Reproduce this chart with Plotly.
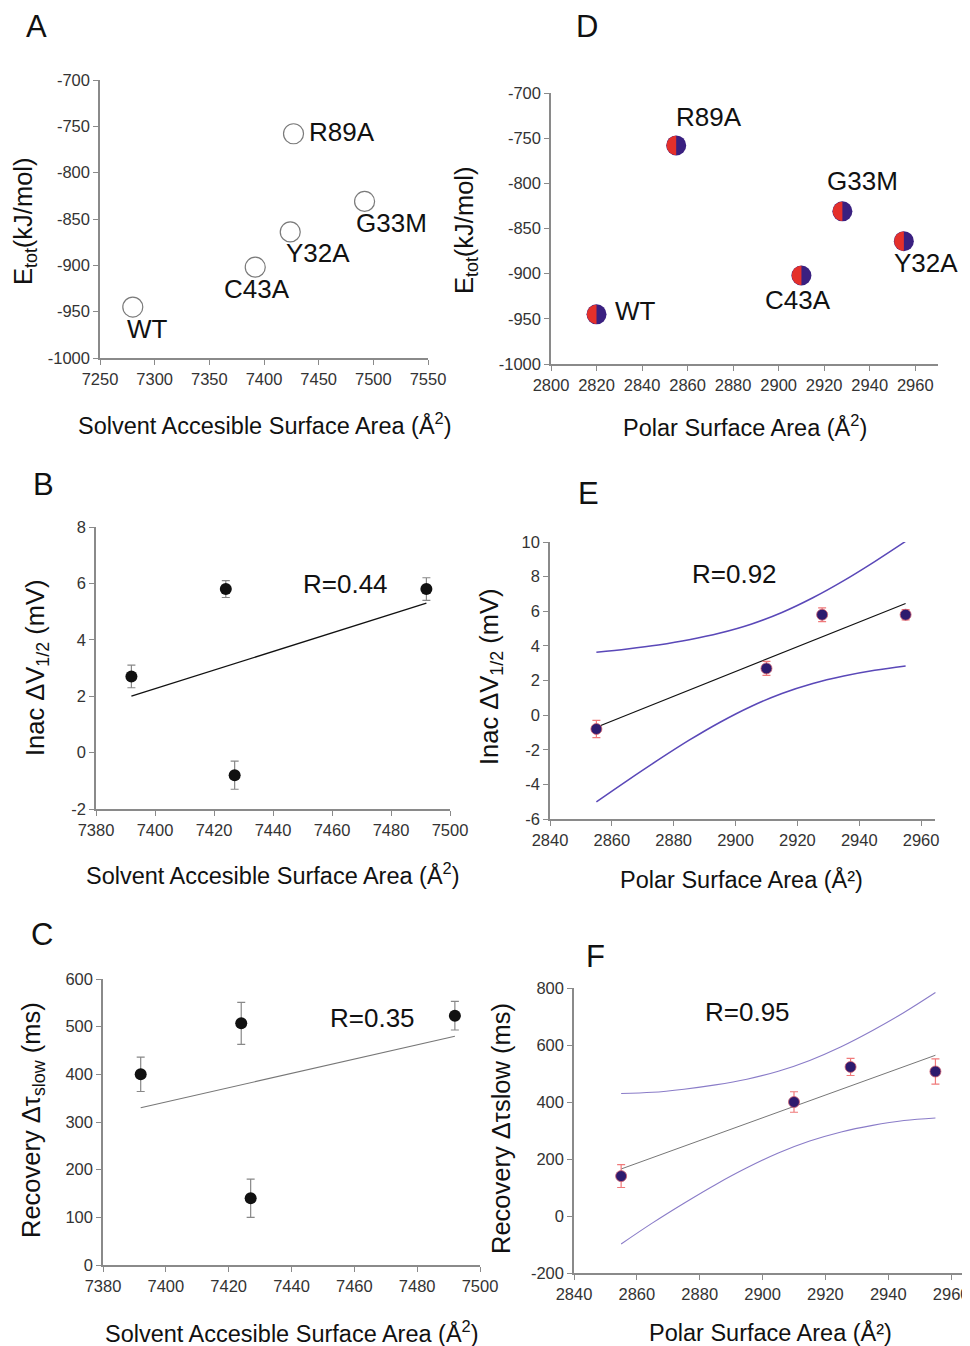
import plotly.graph_objects as go

# ---------------- data ----------------
all_mutants = ["WT", "C43A", "Y32A", "R89A", "G33M"]
sasa_all = [7280, 7392, 7424, 7427, 7492]
polar_all = [2820, 2910, 2955, 2855, 2928]
etot_all = [-945, -902, -864, -758, -831]

mutants = ["C43A", "Y32A", "R89A", "G33M"]
sasa = [7392, 7424, 7427, 7492]
polar = [2910, 2955, 2855, 2928]
dv_inac = [2.7, 5.8, -0.8, 5.8]
dv_err = [0.4, 0.3, 0.5, 0.4]
dtau = [400, 507, 140, 523]
dtau_err = [36, 44, 40, 30]

fit_sasa_x = [7392, 7492]
fit_b_y = [2.0, 5.3]
fit_c_y = [330, 480]
fit_polar_x = [2855, 2955]
fit_e_y = [-0.7, 6.45]
fit_f_y = [165, 564]

band_x = [2855, 2865, 2875, 2885, 2895, 2905, 2915, 2925, 2935, 2945, 2955]
band_e_up = [3.63, 3.82, 4.05, 4.35, 4.74, 5.25, 5.93, 6.78, 7.77, 8.87, 10.04]
band_e_lo = [-5.01, -3.78, -2.59, -1.45, -0.41, 0.50, 1.25, 1.83, 2.26, 2.59, 2.84]
band_f_up = [430, 434, 445, 460, 480, 508, 546, 594, 651, 714, 784]
band_f_lo = [-98, -24, 45, 110, 169, 221, 263, 295, 318, 335, 344]

r_labels = ["R=0.44", "R=0.92", "R=0.35", "R=0.95"]

ticks_etot = [-1000, -950, -900, -850, -800, -750, -700]
ticks_sasa_a = [7250, 7300, 7350, 7400, 7450, 7500, 7550]
ticks_polar_d = [2800, 2820, 2840, 2860, 2880, 2900, 2920, 2940, 2960]
ticks_sasa = [7380, 7400, 7420, 7440, 7460, 7480, 7500]
ticks_polar = [2840, 2860, 2880, 2900, 2920, 2940, 2960]
ticks_dv_b = [-2, 0, 2, 4, 6, 8]
ticks_dv_e = [-6, -4, -2, 0, 2, 4, 6, 8, 10]
ticks_tau_c = [0, 100, 200, 300, 400, 500, 600]
ticks_tau_f = [-200, 0, 200, 400, 600, 800]

# ---------------- styling ----------------
OFF = 8                      # page body margin
W, H = 970 - OFF, 1346 - OFF
FONT = "Liberation Sans, Arial, sans-serif"
AXC = "#8a8a8a"
RED = "#e4302b"
PURPLE = "#3a2080"
BAND = "#5a48b8"
ERR_RED = "#f07a7a"

def px_x(v):
    return (v - OFF) / W

def px_y(v):
    return 1 - (v - OFF) / H

def axis(rng, ticks, dom, anchor):
    return dict(range=rng, tickmode="array", tickvals=ticks, ticktext=[str(t) for t in ticks],
                domain=dom, anchor=anchor,
                showline=True, linecolor=AXC, linewidth=1.5,
                ticks="outside", ticklen=5, tickwidth=1.2, tickcolor=AXC,
                showgrid=False, zeroline=False, automargin=False,
                tickfont=dict(family=FONT, size=16.5, color="#333"))

fig = go.Figure()

# A: open circles
fig.add_trace(go.Scatter(x=sasa_all, y=etot_all, mode="markers", xaxis="x", yaxis="y",
                         marker=dict(symbol="circle", size=20, color="white",
                                     line=dict(color="#7a7a7a", width=1.2)),
                         showlegend=False))

# D: purple circles with red left half (shapes)
fig.add_trace(go.Scatter(x=polar_all, y=etot_all, mode="markers", xaxis="x2", yaxis="y2",
                         marker=dict(symbol="circle", size=20, color=PURPLE,
                                     line=dict(color=PURPLE, width=0)),
                         showlegend=False))

# B
fig.add_trace(go.Scatter(x=fit_sasa_x, y=fit_b_y, mode="lines", xaxis="x3", yaxis="y3",
                         line=dict(color="#111", width=1.3), showlegend=False))
fig.add_trace(go.Scatter(x=sasa, y=dv_inac, mode="markers", xaxis="x3", yaxis="y3",
                         error_y=dict(type="data", array=dv_err, color="#888", thickness=1.2, width=4),
                         marker=dict(size=12, color="#111"), showlegend=False))

# E
fig.add_trace(go.Scatter(x=band_x, y=band_e_up, mode="lines", line_shape="spline", xaxis="x4", yaxis="y4",
                         line=dict(color=BAND, width=1.5), showlegend=False))
fig.add_trace(go.Scatter(x=band_x, y=band_e_lo, mode="lines", line_shape="spline", xaxis="x4", yaxis="y4",
                         line=dict(color=BAND, width=1.5), showlegend=False))
fig.add_trace(go.Scatter(x=fit_polar_x, y=fit_e_y, mode="lines", xaxis="x4", yaxis="y4",
                         line=dict(color="#111", width=1.2), showlegend=False))
fig.add_trace(go.Scatter(x=polar, y=dv_inac, mode="markers", xaxis="x4", yaxis="y4",
                         error_y=dict(type="data", array=dv_err, color=ERR_RED, thickness=1.2, width=4),
                         marker=dict(size=11, color="#2d1b6e", line=dict(color="#d06070", width=0.8)),
                         showlegend=False))

# C
fig.add_trace(go.Scatter(x=fit_sasa_x, y=fit_c_y, mode="lines", xaxis="x5", yaxis="y5",
                         line=dict(color="#777", width=1.1), showlegend=False))
fig.add_trace(go.Scatter(x=sasa, y=dtau, mode="markers", xaxis="x5", yaxis="y5",
                         error_y=dict(type="data", array=dtau_err, color="#888", thickness=1.2, width=4),
                         marker=dict(size=12, color="#111"), showlegend=False))

# F
fig.add_trace(go.Scatter(x=band_x, y=band_f_up, mode="lines", line_shape="spline", xaxis="x6", yaxis="y6",
                         line=dict(color="#8a7cc8", width=1.1), showlegend=False))
fig.add_trace(go.Scatter(x=band_x, y=band_f_lo, mode="lines", line_shape="spline", xaxis="x6", yaxis="y6",
                         line=dict(color="#8a7cc8", width=1.1), showlegend=False))
fig.add_trace(go.Scatter(x=fit_polar_x, y=fit_f_y, mode="lines", xaxis="x6", yaxis="y6",
                         line=dict(color="#666", width=0.9), showlegend=False))
fig.add_trace(go.Scatter(x=polar, y=dtau, mode="markers", xaxis="x6", yaxis="y6",
                         error_y=dict(type="data", array=dtau_err, color=ERR_RED, thickness=1.2, width=4),
                         marker=dict(size=11, color="#2d1b6e", line=dict(color="#d06070", width=0.8)),
                         showlegend=False))

# half-circle shapes for D
r = 9.6
k = 0.5523 * r
half = (f"M 0,{-r} C {-k},{-r} {-r},{-k} {-r},0 C {-r},{k} {-k},{r} 0,{r} Z")
shapes = []
for xv, yv in zip(polar_all, etot_all):
    shapes.append(dict(type="path", xref="x2", yref="y2", xsizemode="pixel", ysizemode="pixel",
                       xanchor=xv, yanchor=yv, path=half, fillcolor=RED,
                       line=dict(width=0), layer="above"))

annotations = []

def ann(text, x, y, size, angle=0, color="#111", xa="center", ya="middle"):
    annotations.append(dict(text=text, x=px_x(x), y=px_y(y), xref="paper", yref="paper",
                            showarrow=False, textangle=angle, xanchor=xa, yanchor=ya,
                            font=dict(family=FONT, size=size, color=color)))

# panel letters
for letter, x, y in [("A", 36, 26), ("D", 587, 26), ("B", 43, 484),
                     ("E", 588, 493), ("C", 42, 934), ("F", 595, 956)]:
    ann(letter, x, y, 31)

# axis titles
sasa_title = "Solvent Accesible Surface Area (Å<sup>2</sup>)"
ann(sasa_title, 265, 424, 23.5)
ann("Polar Surface Area (Å<sup>2</sup>)", 745, 426, 23.5)
ann(sasa_title, 273, 874, 23.5)
ann("Polar Surface Area (Å²)", 741, 880, 23.5)
ann(sasa_title, 292, 1332, 23.5)
ann("Polar Surface Area (Å²)", 770, 1332, 23.5)

ann("E<sub>tot</sub>(kJ/mol)", 25, 221, 25.5, angle=-90)
ann("E<sub>tot</sub>(kJ/mol)", 466, 230, 25.5, angle=-90)
ann("Inac ΔV<sub>1/2</sub> (mV)", 37, 668, 25.5, angle=-90)
ann("Inac ΔV<sub>1/2</sub> (mV)", 491, 677, 25.5, angle=-90)
ann("Recovery Δτ<sub>slow</sub> (ms)", 33, 1120, 25.5, angle=-90)
ann("Recovery Δτslow (ms)", 501, 1129, 25.5, angle=-90)

# R values
ann(r_labels[0], 345, 584, 26)
ann(r_labels[1], 734, 574, 26)
ann(r_labels[2], 372, 1018, 26)
ann(r_labels[3], 747, 1012, 26)

# point labels
shifts_a = {"WT": (15, -22), "C43A": (2, -22), "Y32A": (28, -21), "G33M": (27, -22), "R89A": (48, 2)}
shifts_d = {"WT": (39, 3), "C43A": (-3, -25), "Y32A": (22, -22), "G33M": (20, 30), "R89A": (33, 28)}
for name, xs, xp, yv in zip(all_mutants, sasa_all, polar_all, etot_all):
    dx, dy = shifts_a[name]
    annotations.append(dict(text=name, x=xs, y=yv, xref="x", yref="y", showarrow=False,
                            xshift=dx, yshift=dy, font=dict(family=FONT, size=26, color="#111")))
    dx, dy = shifts_d[name]
    annotations.append(dict(text=name, x=xp, y=yv, xref="x2", yref="y2", showarrow=False,
                            xshift=dx, yshift=dy, font=dict(family=FONT, size=26, color="#111")))

fig.update_layout(
    width=W, height=H, template="none",
    margin=dict(l=0, r=0, t=0, b=0),
    paper_bgcolor="white", plot_bgcolor="white",
    showlegend=False,
    xaxis=axis([7250, 7550], ticks_sasa_a, [px_x(100), px_x(428)], "y"),
    yaxis=axis([-1000, -700], ticks_etot, [px_y(358), px_y(80)], "x"),
    xaxis2=axis([2800, 2970], ticks_polar_d, [px_x(551), px_x(938)], "y2"),
    yaxis2=axis([-1000, -700], ticks_etot, [px_y(364), px_y(93)], "x2"),
    xaxis3=axis([7380, 7500], ticks_sasa, [px_x(96), px_x(450)], "y3"),
    yaxis3=axis([-2, 8], ticks_dv_b, [px_y(809), px_y(527)], "x3"),
    xaxis4=axis([2840, 2964.5], ticks_polar, [px_x(550), px_x(935)], "y4"),
    yaxis4=axis([-6, 10], ticks_dv_e, [px_y(819), px_y(542)], "x4"),
    xaxis5=axis([7380, 7500], ticks_sasa, [px_x(103), px_x(480)], "y5"),
    yaxis5=axis([0, 600], ticks_tau_c, [px_y(1265), px_y(979)], "x5"),
    xaxis6=axis([2840, 2966], ticks_polar, [px_x(574), 1.0], "y6"),
    yaxis6=axis([-200, 800], ticks_tau_f, [px_y(1273), px_y(988)], "x6"),
    shapes=shapes,
    annotations=annotations,
)

fig.write_html("out.html")
